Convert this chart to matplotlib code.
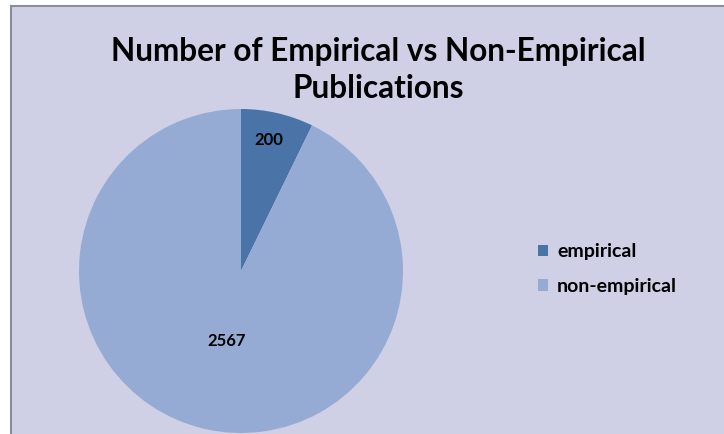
import matplotlib
matplotlib.use("Agg")
import matplotlib.pyplot as plt
from matplotlib.patches import Rectangle

categories = ["empirical", "non-empirical"]
counts = [200, 2567]
colors = ["#4A74A8", "#95ABD3"]

BG = "#CFCFE6"
FONT = ["Lato", "DejaVu Sans"]

W, H = 724, 434
fig = plt.figure(figsize=(W / 100, H / 100), dpi=100)
fig.patch.set_facecolor("white")

# chart area with grey border on top/left
fig.patches.append(Rectangle((10.5 / W, -0.1), 1.2, (H - 5.5) / H + 0.1, transform=fig.transFigure,
                             facecolor=BG, edgecolor="#8C8C96", linewidth=1.5, zorder=-5))

# pie: centre (241, 271) px, radius 162 px
cx, cy, r = 241, H - 271, 162
ax = fig.add_axes([(cx - r) / W, (cy - r) / H, 2 * r / W, 2 * r / H])
ax.set_zorder(2)
wedges, _ = ax.pie(counts, colors=colors, startangle=90, counterclock=False,
                   radius=1, wedgeprops=dict(linewidth=0))
ax.set_xlim(-1, 1)
ax.set_ylim(-1, 1)
ax.axis("off")

# data labels (pixel positions as placed by the source chart)
label_px = [(269, 140), (227, 341)]
for (px, py), v in zip(label_px, counts):
    fig.text(px / W, 1 - py / H, str(v), ha="center", va="center", zorder=5,
             fontsize=12, fontweight="bold", family=FONT, color="black")

fig.text(378 / W, 1 - 52 / H, "Number of Empirical vs Non-Empirical", ha="center", va="center",
         fontsize=22.7, fontweight="bold", family=FONT)
fig.text(378 / W, 1 - 89 / H, "Publications", ha="center", va="center",
         fontsize=22.7, fontweight="bold", family=FONT)

leg = fig.legend(wedges, categories, loc="center left", bbox_to_anchor=(520 / W, 1 - 269 / H),
                 frameon=False, prop=dict(family=FONT, weight="bold", size=14),
                 handlelength=0.55, handleheight=0.55, handletextpad=0.45, labelspacing=0.9)

fig.savefig("out.png", dpi=100, facecolor=fig.get_facecolor())
